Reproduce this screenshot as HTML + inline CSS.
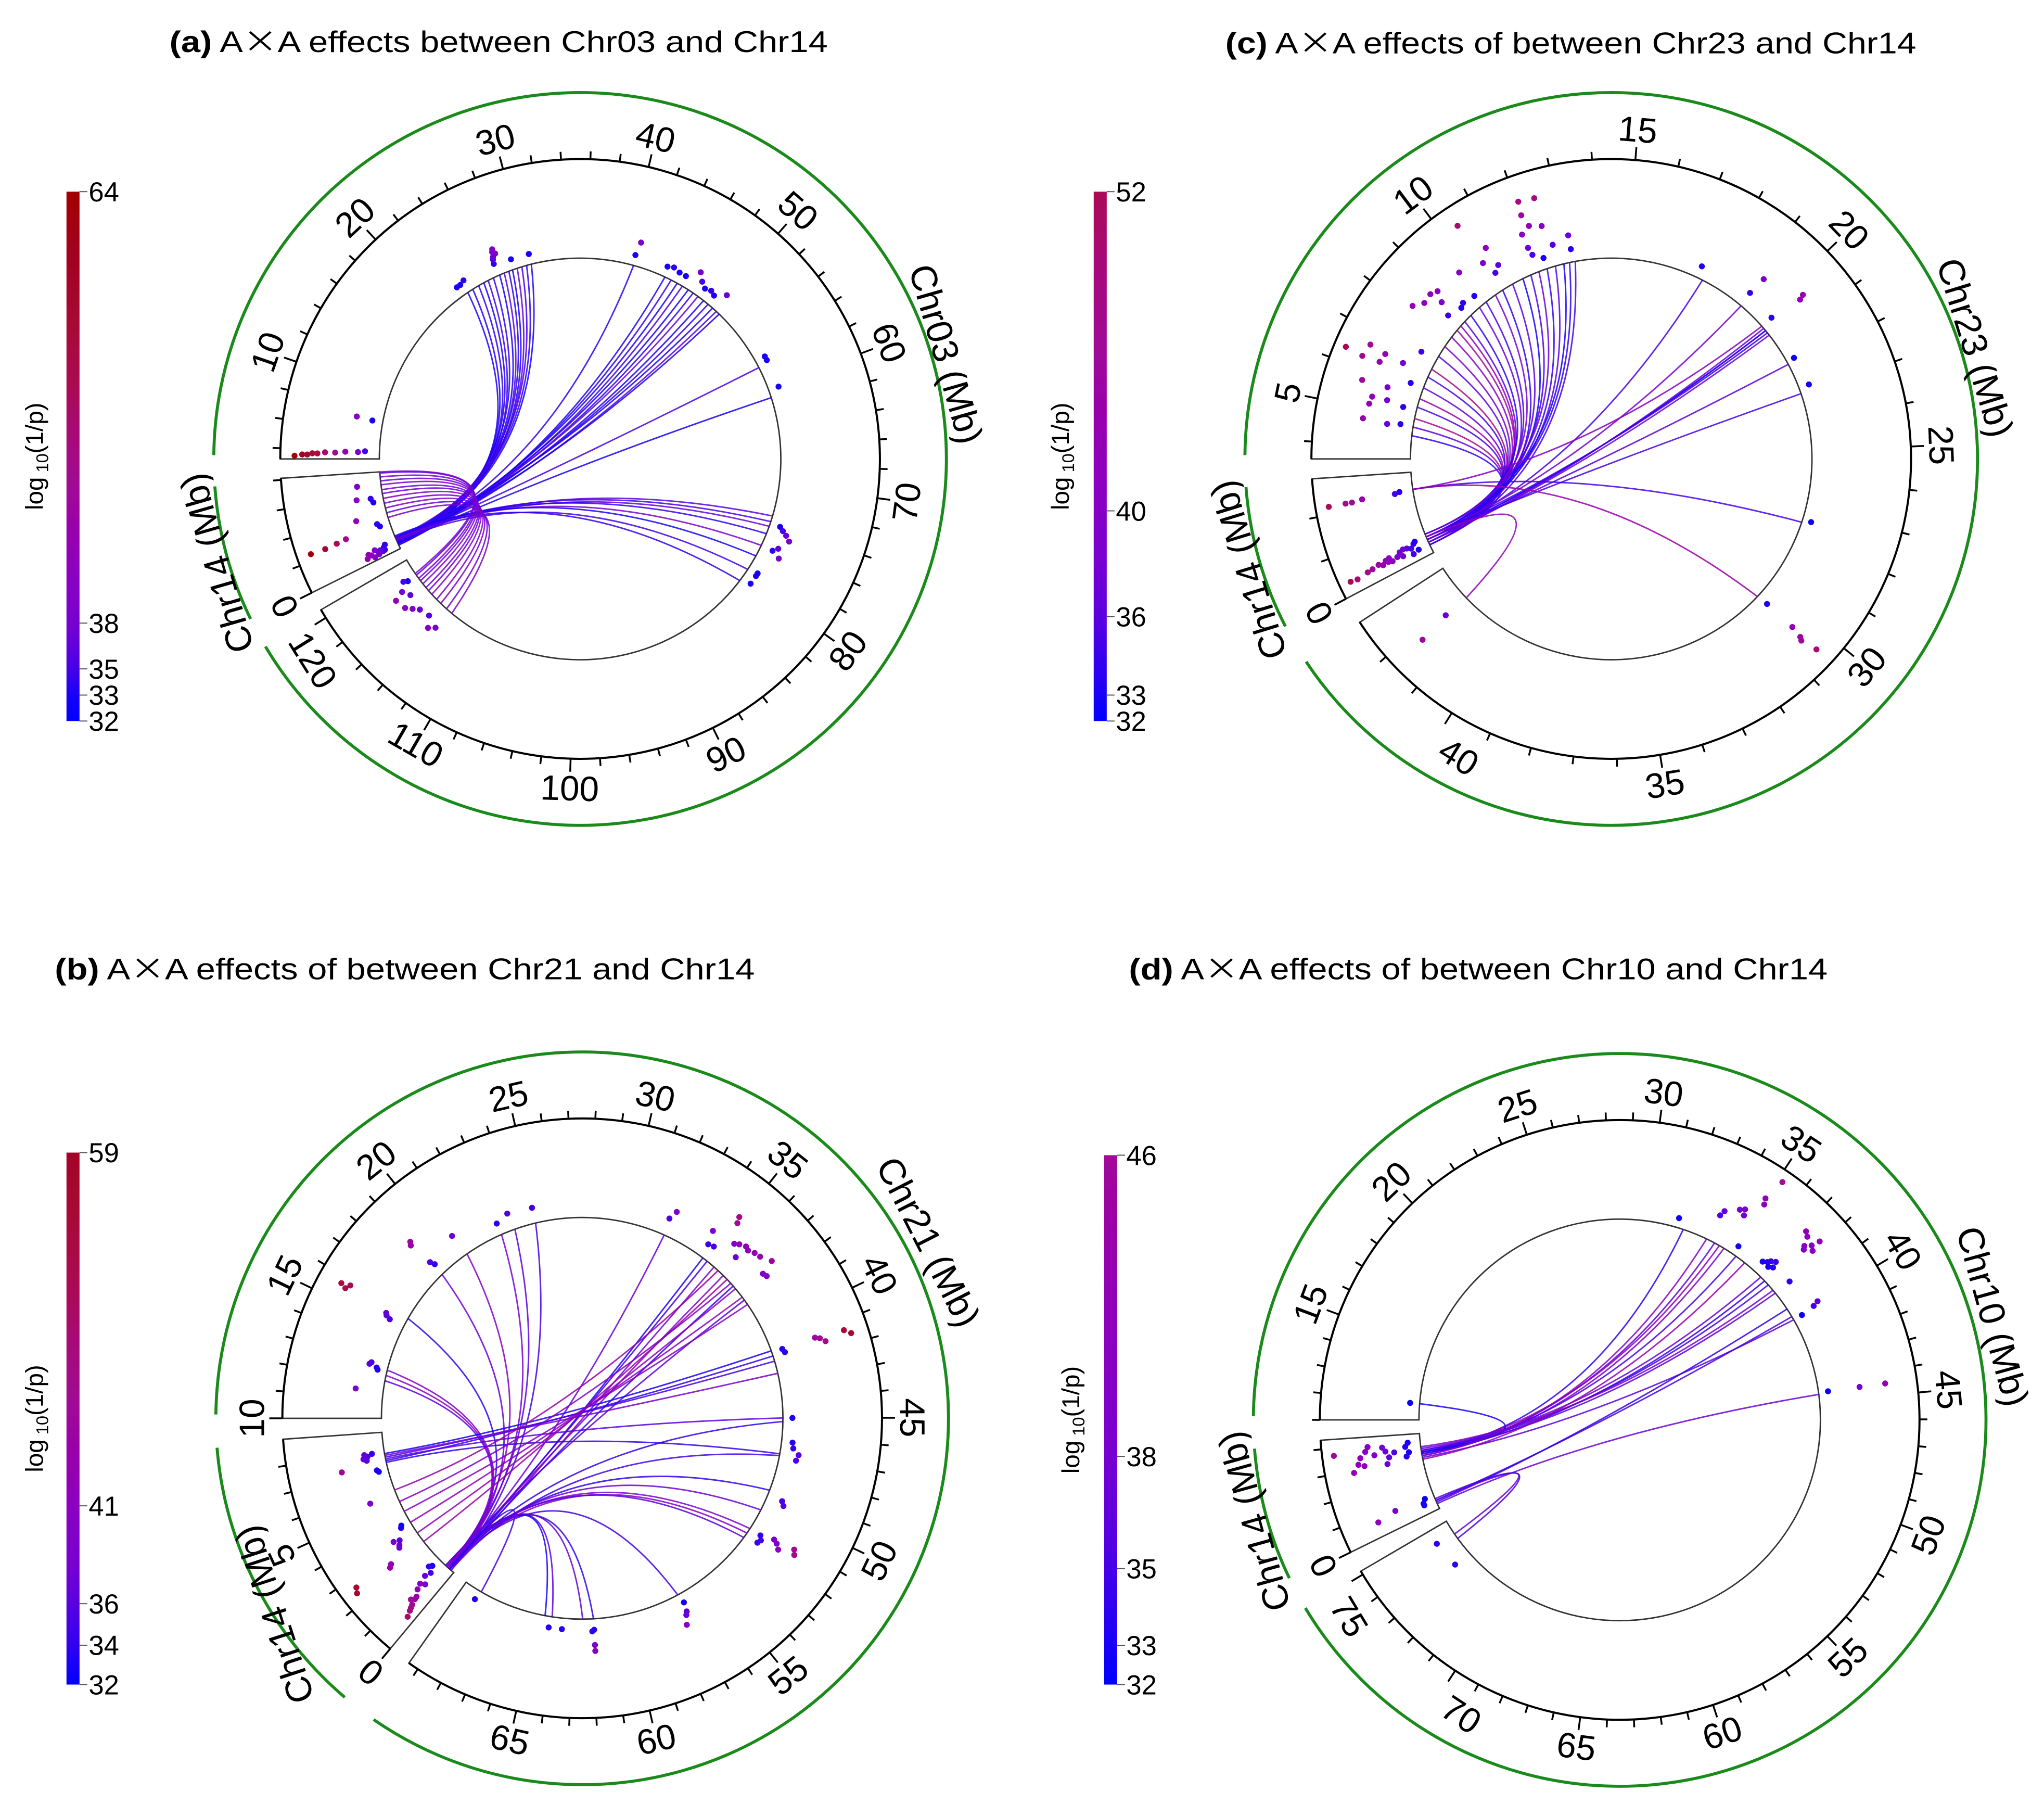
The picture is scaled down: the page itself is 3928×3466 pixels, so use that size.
<!DOCTYPE html>
<html><head><meta charset="utf-8"><title>AxA circos plots</title>
<style>
html,body{margin:0;padding:0;background:#fff;}
svg{display:block;}
text{font-family:"Liberation Sans","Noto Sans CJK SC",sans-serif;}
</style></head>
<body>
<svg id="fig" xmlns="http://www.w3.org/2000/svg" width="3928" height="3466" viewBox="0 0 1568 1383.6" preserveAspectRatio="none">
<rect x="0" y="0" width="1568" height="1383.6" fill="#fff"/>
</svg>
<script>
// ===== Panel (a) data: Chr03 x Chr14 =====
const A_link14 = [0.5,0.7,0.6,0.9,0.4,1.1,0.8,0.6,1.0,0.5,0.7,1.2,0.9,0.6, 0.7, 0.4,0.6,0.8,0.5,0.9,0.7,1.0,0.6,0.8,1.1,0.5,0.7, 0.8,0.6, 1.0,1.2,0.9,1.3,1.1,1.4,0.8,1.2, 3.4,3.9,4.4,4.9,5.4,5.9,6.3,6.8,7.2,7.6,8.0,8.1];
const A_linkOther = [23.2,23.8,24.5,25.1,25.6,26.2,26.9,27.4,27.9,28.3,28.8,29.3,29.8,30.3, 40.8, 44.2,44.9,45.6,46.2,46.9,47.5,48.1,48.8,49.4,50.0,50.5,50.9, 57.7,61.0, 73.2,73.8,74.3,75.1,76.4,77.6,79.2,80.6, 113.5,114.2,115.0,115.6,116.3,116.8,117.2,117.7,118.1,118.4,118.8,119.0];
const A_linkVal = [33,33.5,34,33,35,34,33,36,34,33,37,35,34,33, 34, 33,34,33,35,33,34,37,33,34,33,36,33, 35,33, 36,35,37,34,38,33,35,34, 38,37,39,38,40,37,38,39,37,38,36,38];
const A_dotPos = [3.5,3.6,3.6,3.7,3.7,3.8,3.8,3.9,3.9,4.0, 7.1,7.0, 22.6,23.0,23.5, 26.8,26.9,27.0,27.1,27.2,27.3, 28.5,30.3, 40.9,40.7, 44.0,44.6,45.3,46.0, 47.0,47.6,48.2,48.8,49.3,50.2, 57.0,57.4,60.2, 74.0,74.3,74.6,75.0,76.0,76.4,76.8,79.0,79.3,80.2, 113.8,114.3,115.0,116.0,116.5,117.0,117.6,118.0,118.3,118.8,119.0];
const A_dotVal = [63,60,58,56,54,51,47,43,38,35, 40,33, 33,33,34, 34,36,37,39,40,38, 33,33, 39,33, 33,34,33,33, 38,35,33,34,33,37, 33,33,33, 33,35,37,39,36,34,38,33,33,33, 38,40,36,37,39,41,36,42,38,33,35];
const A_dot14Pos = [6.9,5.7,5.2,5.6,3.9,2.8,3.1,2.5,2.5,2.6,2.7, 0.3,0.4,0.5,0.6,0.7,0.8,0.9,1.0,0.45,0.55,0.65,0.75];
const A_dot14Val = [39,40,33,34,42,33,34,63,57,52,48, 40,38,36,41,37,35,39,34,43,35,38,42];
const A_cbVals = [32,33,35,38,64];
const A_cbFracs = [0,0.049,0.0985,0.185,1];

// ===== Panel (b) data: Chr21 x Chr14 =====
const B_link14 = [0.3,0.4,0.2,0.5,0.3,0.4,0.3,0.5,0.4, 0.3,0.4,0.5,0.3,0.4,0.6, 0.4,0.3,0.5,0.6,0.2,0.4,0.5, 0.3,0.4,0.2,0.5,0.3,0.6,0.4, 7.4,7.6,7.8,7.5,7.3,7.7, 2.4,3.0,3.7,4.4,5.0,5.7];
const B_linkOther = [22.9,23.7,24.9,20.7,18.9,15.8,12.7,12.1,12.4, 57.0,61.9,64.2,64.6,68.4,62.5, 49.1,51.8,51.5,52.1,47.1,45.2,50.3, 34.7,35.0,35.5,36.2,37.0,38.0,32.2, 41.5,41.8,41.2,45.0,47.0,42.5, 36.5,37.2,37.8,38.3,36.8,35.8];
const B_linkVal = [38,36,35,40,37,34,39,36,41, 35,34,36,33,35,37, 34,40,38,36,35,34,37, 33,35,38,40,34,36,37, 34,35,33,36,34,38, 44,42,41,40,39,43];
const B_dotPos = [11.46,12.8,12.9,12.6,12.7, 15.6,15.7,15.8,15.5,15.3,15.4, 18.8,18.9,18.9,19.0,20.6,22.9,23.6,24.9,32.1,32.3, 34.9,35.0,34.3,34.5,34.8,35.5,35.7,36.0,36.2,36.0,36.5,36.8,37.5,37.7,37.3, 41.3,41.5,41.3,41.4,41.6,41.4,41.6, 45.0,46.3,46.6,46.9,47.2,49.4,49.6, 51.5,51.7,51.9,51.3,51.4,51.6,51.2,51.4, 56.9,57.0,57.1,57.3,61.9,62.0,61.9,61.9,63.6,64.3,68.5];
const B_dotVal = [39,36,35.5,33,33.5, 53,55,52,37,35,36.5, 44,45,35.5,34,37.5,33.8,35.5,35,35.5,38.5, 48,46,39,34.5,35,40,41,42,41.5,37,42.5,43,40,40.5,45, 33.5,34,45,46.5,48,55,57, 33,33.5,34,36,35.5,35,36, 34,35,34.5,38.5,40,41.5,46,47, 33,36,37,40,33.5,34,38.5,40.5,33.5,33.5,33];
const B_dot14Pos = [7.3,7.8,7.9,7.7,7.6,7.9,7.0,6.9,5.5,3.7,3.8,3.2,3.0,3.3,2.9,2.4,2.5,2.4,2.6, 1.1,0.9,0.7,0.58,0.4,0.5,0.8,1.0,0.3,0.6,0.9,0.7,1.2,0.45];
const B_dot14Val = [45,35.5,36.5,37,36,34,33.5,33,39,33.5,33,36,37,38,37.5,44,43,58,57, 33,35,39,45,49,47,42,37,51,44,40,46,34,48];
const B_cbVals = [32,34,36,41,59];
const B_cbFracs = [0,0.074,0.152,0.336,1];

// ===== Panel (c) data: Chr23 x Chr14 =====
const C_link14 = [0.3,0.5,0.4,0.6,0.5,0.3,0.7,0.4,0.6,0.5,0.4,0.3,0.6,0.5,0.7,0.4,0.5,0.6,0.3,0.5,0.4,0.6,0.7,0.5,0.4,0.6,0.5,0.3, 0.5,0.6,0.4,0.5,0.6,0.5,0.4,0.5,0.6, 2.3,2.3,2.3, 0.6];
const C_linkOther = [4.4,4.7,5.0,5.4,5.7,6.1,6.5,6.8,7.3,7.7,8.1,8.4,8.6,8.8,9.1,9.5,9.8,10.2,10.5,10.9,11.3,11.6,11.9,12.2,12.5,12.8,13.0,13.2, 17.7,19.3,20.4,20.5,20.6,20.5,20.7,21.9,23.0, 20.3,27.5,30.5, 41.7];
const C_linkVal = [34,36,47,35,44,37,35,48,36,38,40,46,42,36,34,37,35,38,34,36,33,35,37,34,36,33,34,35, 35,38,36,33,34,35,37,36,35, 40,35,44, 42];
const C_dotPos = [6.36,6.66,6.31,6.6,6.34,5.72,5.36,5.15,4.72,10.42,12.05,12.46,12.0,12.1,12.44,11.83,13.13, 8.13,8.7,8.75,9.72,10.74,10.44,10.8,10.6,5.74,6.58,5.37,11.85,12.6,11.9,13.13, 8.58,9.05,9.62,7.15,6.1,5.29,4.73,4.67,12.2, 17.48,19.3,19.25,20.3,20.4,20.45,21.8,22.8,27.4,30.46,30.45,30.5,30.55,30.45,41.75,41.7, 8.4,8.9,9.2];
const C_dotVal = [52,46.7,47.4,42.4,42.9,45.4,41.9,42.2,43,49.8,48.4,48,45,41.9,40.9,40.5,37.1, 42.8,41.3,37.9,40.3,41.5,38.7,36.3,35,38.9,37.5,38.1,36.9,35.7,34.9,33.6, 34.5,33.4,33.4,34.7,33.8,33.8,33.6,36.9,33.2, 33.4,39.1,34.3,33.6,43.2,41.9,32.4,33,32.6,33.4,41.9,45,45.8,50,37.1,45.4, 41,40.5,34];
const C_dot14Pos = [2.19,2.2,2.24,2.2,2.24,2.28,0.31,0.29,0.34,0.36,0.34,0.33,0.33,0.25,0.31,0.4,0.45,0.38,0.5,0.42,0.48,0.55,0.52,0.44,0.6,0.36];
const C_dot14Val = [51.6,45.8,43.2,47.4,35,33.8,52,50.2,47.2,45.8,43,40.5,37.6,35,33.4,44,41,39,36,42,38,34,37,35,33.5,41.5];
const C_cbVals = [32,33,36,40,52];
const C_cbFracs = [0,0.049,0.197,0.397,1];

// ===== Panel (d) data: Chr10 x Chr14 =====
const D_link14 = [3.3,3.2,3.4,3.1,3.3,3.5,3.2,3.4,3.3,3.6,3.0,0.3,0.5,0.4,3.3,0.5,0.6,2.9,3.1];
const D_linkOther = [32.1,34.0,34.3,34.6,35.4,37.2,37.5,37.8,38.4,38.2,40.2,44.6,40.0,39.5,11.9,74.3,74.0,36.0,33.5];
const D_linkVal = [34,36,42,39,35,37,34,35,36,38,36,37,35,34,33,37,35,43,40];
const D_dotPos = [11.9,31.7,33.6,33.7,34.3,34.5,34.6,35.0,35.1,35.2,35.2,36.7,36.9,37.0,37.1,37.3,37.2,38.4,37.2,37.4,37.6,37.8,37.7,37.9,38.0,40.2,40.1,40.0,44.5,44.5,44.5,74.4,73.0];
const D_dotVal = [32.5,32.5,35.5,36.5,38,38.5,37.5,42,41,46,32.5,33,33.5,34,33,33.5,34.5,34,42,41.5,40,41,39.5,42.5,40.5,32.5,35,36,32.5,38,42.5,34.3,34];
const D_dot14Pos = [3.7,3.46,3.7,2.9,3.2,3.5,3.9,3.1,3.6,3.3,3.8,3.0,3.5,3.7,3.4,3.2,3.9,0.8,0.5,0.6,0.8,0.62];
const D_dot14Val = [46,41.5,40.5,43,42,39,40,41,37,36.5,37.5,37,35.5,33.5,33,33.5,33,32.5,33,33,38,41.5];
const D_cbVals = [32,33,35,38,46];
const D_cbFracs = [0,0.074,0.219,0.431,1];

// ===== color scale (absolute) =====
const colorStopVals = [32,34,36,38,41,44,46,50,52,56,60,64];
const colorStopRGB = [[0,0,255],[48,0,240],[90,0,224],[120,0,208],[140,0,192],[154,0,168],[160,10,152],[168,10,112],[170,10,85],[168,10,53],[164,0,32],[160,0,0]];

const NS = 'http://www.w3.org/2000/svg';
const svg = document.getElementById('fig');
function mk(tag, attrs, parent){
  const e = document.createElementNS(NS, tag);
  for (const k in attrs) e.setAttribute(k, attrs[k]);
  (parent || svg).appendChild(e);
  return e;
}
function colorOf(v){
  if (v <= colorStopVals[0]) return 'rgb(' + colorStopRGB[0].join(',') + ')';
  for (let i = 1; i < colorStopVals.length; i++){
    if (v <= colorStopVals[i]){
      const t = (v - colorStopVals[i-1]) / (colorStopVals[i] - colorStopVals[i-1]);
      const a = colorStopRGB[i-1], b = colorStopRGB[i];
      return 'rgb(' + a.map((x,j)=>Math.round(x + (b[j]-x)*t)).join(',') + ')';
    }
  }
  return 'rgb(' + colorStopRGB[colorStopRGB.length-1].join(',') + ')';
}
function fracOf(v, vals, fr){
  if (v <= vals[0]) return 0;
  for (let i = 1; i < vals.length; i++){
    if (v <= vals[i]) return fr[i-1] + (fr[i]-fr[i-1]) * (v - vals[i-1]) / (vals[i]-vals[i-1]);
  }
  return 1;
}
function valOfFrac(f, vals, fr){
  for (let i = 1; i < fr.length; i++){
    if (f <= fr[i]) return vals[i-1] + (vals[i]-vals[i-1]) * (f - fr[i-1]) / (fr[i]-fr[i-1]);
  }
  return vals[vals.length-1];
}
const R_IN = 154, R_TICK = 230, R_GREEN = 281, R_LABEL = 253;

const panels = [
  {id:'a', cx:445, cy:352,
   main:{name:'Chr03', a0:-90, a1:239.8, p0:3.27, deg:2.81, major:10, minor:2},
   c14:{a0:-116.5, a1:-93.7, deg:2.81, major:10, minor:2},
   cb:{x:51, y:147, h:406, lx:33},
   title:{x:130, y:40, lab:'(a)', pre:' A', rest:'A effects between Chr03 and Chr14', len:505},
   chrA:{ang:74, r:292, rot:74}, c14A:{ang:-106, r:290, rot:-106},
   link14:A_link14, linkOther:A_linkOther, linkVal:A_linkVal,
   dotPos:A_dotPos, dotVal:A_dotVal, dot14Pos:A_dot14Pos, dot14Val:A_dot14Val,
   cbVals:A_cbVals, cbFracs:A_cbFracs},
  {id:'c', cx:1236, cy:352,
   main:{name:'Chr23', a0:-90, a1:237, p0:3.6, deg:8.3, major:5, minor:1},
   c14:{a0:-117.8, a1:-93.8, deg:8.3, major:5, minor:1},
   cb:{x:839, y:147, h:406, lx:820},
   title:{x:940, y:41, lab:'(c)', pre:' A', rest:'A effects of between Chr23 and Chr14', len:530},
   chrA:{ang:73, r:292, rot:73}, c14A:{ang:-107, r:291, rot:-107},
   link14:C_link14, linkOther:C_linkOther, linkVal:C_linkVal,
   dotPos:C_dotPos, dotVal:C_dotVal, dot14Pos:C_dot14Pos, dot14Val:C_dot14Val,
   cbVals:C_cbVals, cbFracs:C_cbFracs},
  {id:'b', cx:446.6, cy:1087.8,
   main:{name:'Chr21', a0:-90, a1:215.3, p0:10, deg:5.14, major:5, minor:1},
   c14:{a0:-140.2, a1:-94, deg:5.14, major:5, minor:1},
   cb:{x:51, y:884, h:408, lx:33},
   title:{x:42, y:751, lab:'(b)', pre:' A', rest:'A effects of between Chr21 and Chr14', len:537},
   chrA:{ang:63, r:298, rot:63}, c14A:{ang:-122.5, r:280, rot:-108},
   link14:B_link14, linkOther:B_linkOther, linkVal:B_linkVal,
   dotPos:B_dotPos, dotVal:B_dotVal, dot14Pos:B_dot14Pos, dot14Val:B_dot14Val,
   cbVals:B_cbVals, cbFracs:B_cbFracs},
  {id:'d', cx:1242.5, cy:1089,
   main:{name:'Chr10', a0:-90, a1:239.7, p0:11, deg:5.14, major:5, minor:1},
   c14:{a0:-116.2, a1:-93.9, deg:5.14, major:5, minor:1},
   cb:{x:847, y:886, h:406, lx:828},
   title:{x:866, y:751, lab:'(d)', pre:' A', rest:'A effects of between Chr10 and Chr14', len:536},
   chrA:{ang:74.5, r:297, rot:74.5}, c14A:{ang:-105.5, r:291, rot:-105.5},
   link14:D_link14, linkOther:D_linkOther, linkVal:D_linkVal,
   dotPos:D_dotPos, dotVal:D_dotVal, dot14Pos:D_dot14Pos, dot14Val:D_dot14Val,
   cbVals:D_cbVals, cbFracs:D_cbFracs}
];

function drawPanel(P){
  const g = mk('g', {});
  
  
  const rad = d => d * Math.PI / 180;
  const pt = (ang, r) => [P.cx + r * Math.sin(rad(ang)), P.cy - r * Math.cos(rad(ang))];
  const angMain = p => P.main.a0 + (p - P.main.p0) * P.main.deg;
  const ang14 = p => P.c14.a0 + p * P.c14.deg;
  const f = v => fracOf(v, P.cbVals, P.cbFracs);
  const rDot = v => R_IN + 5 + f(v) * 62;

  // title
  const t = mk('text', {x:P.title.x, y:P.title.y, 'font-size':23, fill:'#000', textLength:P.title.len, lengthAdjust:'spacingAndGlyphs'}, g);
  
  
  const tb = mk('tspan', {'font-weight':'bold'}, t);
  tb.textContent = P.title.lab;
  const tp = mk('tspan', {}, t);
  tp.textContent = P.title.pre;
  const tx2 = mk('tspan', {'font-family':'"Noto Sans CJK SC",sans-serif'}, t);
  tx2.textContent = '\u00D7';
  const tr = mk('tspan', {}, t);
  tr.textContent = P.title.rest;

  // colorbar
  const gid = 'grad-' + P.id;
  const defs = mk('defs', {}, g);
  const lg = mk('linearGradient', {id:gid, x1:0, y1:1, x2:0, y2:0}, defs);
  for (let i = 0; i <= 40; i++){
    const fr = i / 40;
    mk('stop', {offset:fr, 'stop-color':colorOf(valOfFrac(fr, P.cbVals, P.cbFracs))}, lg);
  }
  const bar = mk('rect', {x:P.cb.x, y:P.cb.y, width:10, height:P.cb.h, fill:'url(#' + gid + ')'}, g);
  
  
  P.cbVals.forEach((v, i) => {
    const y = P.cb.y + P.cb.h * (1 - P.cbFracs[i]);
    const tl = mk('line', {x1:P.cb.x + 10, y1:y, x2:P.cb.x + 16, y2:y, stroke:'#555', 'stroke-width':0.8}, g);
    
    
    const tx = mk('text', {x:P.cb.x + 17, y:y + 7.5, 'font-size':21, fill:'#000'}, g);
    
    
    tx.textContent = String(v);
  });
  const cy0 = P.cb.y + P.cb.h / 2;
  const lt = mk('text', {x:P.cb.lx, y:cy0, 'font-size':19, fill:'#000', 'text-anchor':'middle', transform:'rotate(-90 ' + P.cb.lx + ' ' + cy0 + ')'}, g);
  
  
  const l1 = mk('tspan', {}, lt); l1.textContent = 'log';
  const l2 = mk('tspan', {'font-size':13, dy:4}, lt); l2.textContent = ' 10';
  const l3 = mk('tspan', {dy:-4}, lt); l3.textContent = '(1/p)';

  // segments
  function segment(a0, a1, name){
    const large = (a1 - a0) > 180 ? 1 : 0;
    const p1 = pt(a0, R_IN), p2 = pt(a1, R_IN), p3 = pt(a1, R_TICK), p4 = pt(a0, R_TICK);
    const d = 'M' + p1 + ' A' + R_IN + ' ' + R_IN + ' 0 ' + large + ' 1 ' + p2 + ' L' + p3 + ' A' + R_TICK + ' ' + R_TICK + ' 0 ' + large + ' 0 ' + p4 + ' Z';
    const s = mk('path', {d:d, fill:'none', stroke:'#333', 'stroke-width':1.1}, g);
    
    
    const ax = mk('path', {d:'M' + p4 + ' A' + R_TICK + ' ' + R_TICK + ' 0 ' + large + ' 1 ' + p3, fill:'none', stroke:'#000', 'stroke-width':1.6}, g);
    
    
    const q1 = pt(a0 + 0.6, R_GREEN), q2 = pt(a1 - 0.6, R_GREEN);
    const gr = mk('path', {d:'M' + q1 + ' A' + R_GREEN + ' ' + R_GREEN + ' 0 ' + large + ' 1 ' + q2, fill:'none', stroke:'#1a8a1a', 'stroke-width':2.3}, g);
    
    
  }
  segment(P.main.a0, P.main.a1, P.main.name.toLowerCase());
  segment(P.c14.a0, P.c14.a1, 'chr14');

  function ticks(startMb, endMb, angFn, major, minor, isMain){
    const k0 = Math.ceil(startMb / minor - 1e-9), k1 = Math.floor(endMb / minor + 1e-9);
    for (let k = k0; k <= k1; k++){
      const m = k * minor;
      const isMaj = Math.abs(m / major - Math.round(m / major)) < 1e-6;
      const a = angFn(m);
      const len = isMaj ? 10 : 6;
      const p1 = pt(a, R_TICK), p2 = pt(a, R_TICK + len);
      const tk = mk('line', {x1:p1[0], y1:p1[1], x2:p2[0], y2:p2[1], stroke:'#000', 'stroke-width':1.4}, g);
      
      
      if (isMaj){
        const an = ((a + 180) % 360 + 360) % 360 - 180;
        let rot = an, la = a, lr = R_LABEL;
        if (isMain && (an > 90 || an < -90)){
          rot = an > 0 ? an - 180 : an + 180;
          if (an < -100 && an > -150){ la = a - 5; lr = R_LABEL + 4; }
        }
        const lp = pt(la, lr);
        const lb = mk('text', {x:lp[0], y:lp[1], 'font-size':27, fill:'#000', 'text-anchor':'middle', 'dominant-baseline':'central', transform:'rotate(' + rot + ' ' + lp[0] + ' ' + lp[1] + ')'}, g);
        
        
        lb.textContent = String(Math.round(m));
      }
    }
  }
  const mainEnd = P.main.p0 + (P.main.a1 - P.main.a0) / P.main.deg;
  ticks(P.main.p0, mainEnd, angMain, P.main.major, P.main.minor, true);
  const c14End = (P.c14.a1 - P.c14.a0) / P.c14.deg;
  ticks(0, c14End, ang14, P.c14.major, P.c14.minor, false);

  // chromosome labels
  function chrLabel(spec, txt, nm){
    const lp = pt(spec.ang, spec.r);
    const tx = mk('text', {x:lp[0], y:lp[1], 'font-size':28, fill:'#000', 'text-anchor':'middle', 'dominant-baseline':'central', transform:'rotate(' + spec.rot + ' ' + lp[0] + ' ' + lp[1] + ')'}, g);
    
    
    tx.textContent = txt;
  }
  chrLabel(P.chrA, P.main.name + ' (Mb)', 'main-chromosome-label');
  chrLabel(P.c14A, 'Chr14 (Mb)', 'chr14-label');

  // links
  const lg2 = mk('g', {fill:'none', 'stroke-width':1.15, 'stroke-opacity':0.85}, g);
  
  
  for (let i = 0; i < P.link14.length; i++){
    const a = ang14(P.link14[i]), b = angMain(P.linkOther[i]);
    const p0 = pt(a, R_IN), p2 = pt(b, R_IN), c = pt(a, R_IN * 0.15);
    const ln = mk('path', {d:'M' + p0 + ' Q' + c + ' ' + p2, stroke:colorOf(P.linkVal[i])}, lg2);
    
    
  }
  // dots
  const dg = mk('g', {}, g);
  
  
  for (let i = 0; i < P.dotPos.length; i++){
    const p = pt(angMain(P.dotPos[i]), rDot(P.dotVal[i]));
    const c = mk('circle', {cx:p[0], cy:p[1], r:2.3, fill:colorOf(P.dotVal[i])}, dg);
    
    
  }
  for (let i = 0; i < P.dot14Pos.length; i++){
    const p = pt(ang14(P.dot14Pos[i]), rDot(P.dot14Val[i]));
    const c = mk('circle', {cx:p[0], cy:p[1], r:2.3, fill:colorOf(P.dot14Val[i])}, dg);
    
    
  }
}
panels.forEach(drawPanel);
</script>
</body></html>
